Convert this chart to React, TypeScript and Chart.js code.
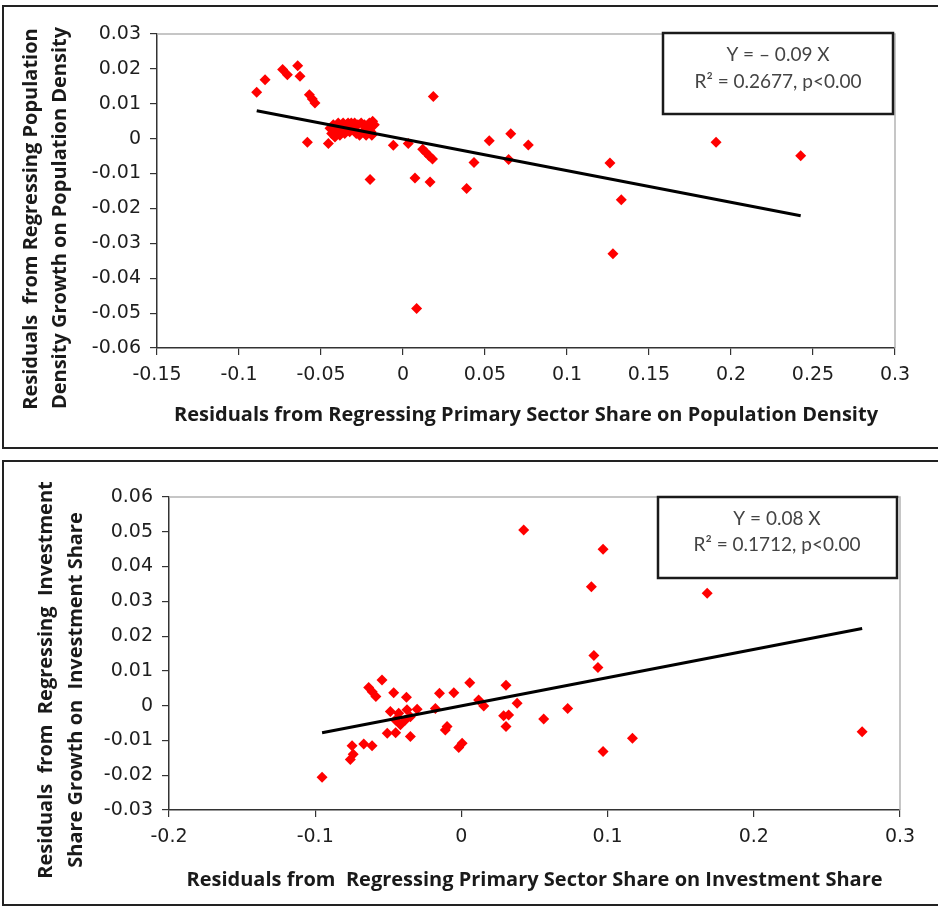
import React, { useEffect, useRef } from 'react';
import { Chart, registerables } from 'chart.js';

Chart.register(...registerables);

// ---------- Chart 1: Population density ----------
const popX = [
  -0.0892, -0.0841, -0.0734, -0.0705, -0.0642, -0.0628, -0.0571, -0.0553, -0.0537, -0.0583, -0.0455,
  -0.0445, -0.0435, -0.0425, -0.0415, -0.0405, -0.0395, -0.0385, -0.0375, -0.0365, -0.0355, -0.0345,
  -0.0335, -0.0325, -0.0315, -0.0305, -0.0295, -0.0285, -0.0275, -0.0265, -0.0255, -0.0245, -0.0235,
  -0.0225, -0.0215, -0.0205, -0.0195, -0.0185, -0.0175, -0.0190, -0.0230,
  -0.0201, -0.0059, 0.0032, 0.0073, 0.0083, 0.0120, 0.0140, 0.0160, 0.0180, 0.0165, 0.0185,
  0.0388, 0.0433, 0.0526, 0.0657, 0.0644, 0.0764, 0.1262, 0.1331, 0.1280, 0.1909, 0.2425,
];
const popY = [
  0.0133, 0.0169, 0.0198, 0.0183, 0.0209, 0.0179, 0.0126, 0.0114, 0.0102, -0.0010, -0.0014,
  0.0030, 0.0015, 0.0040, 0.0005, 0.0025, 0.0045, 0.0010, 0.0030, 0.0045, 0.0015, 0.0040,
  0.0045, 0.0020, 0.0045, 0.0030, 0.0045, 0.0015, 0.0040, 0.0010, 0.0045, 0.0020, 0.0040,
  0.0010, 0.0030, 0.0045, 0.0020, 0.0050, 0.0040, 0.0010, 0.0025,
  -0.0117, -0.0019, -0.0014, -0.0113, -0.0487, -0.0030, -0.0040, -0.0050, -0.0058, -0.0124, 0.0121,
  -0.0143, -0.0068, -0.0006, 0.0014, -0.0060, -0.0018, -0.0070, -0.0175, -0.0330, -0.0010, -0.0049,
];
const popTrendX = [-0.0892, 0.2425];
const popTrendY = [0.0080, -0.0221];
const popXTicks = [-0.15, -0.1, -0.05, 0, 0.05, 0.1, 0.15, 0.2, 0.25, 0.3];
const popYTicks = [-0.06, -0.05, -0.04, -0.03, -0.02, -0.01, 0, 0.01, 0.02, 0.03];
const popXTitle = 'Residuals from Regressing Primary Sector Share on Population Density';
const popYTitle = ['Residuals  from Regressing Population', 'Density Growth on Population Density'];
const popNote = ['Y = \u2013 0.09 X', 'R\u00B2 = 0.2677, p<0.00'];

// ---------- Chart 2: Investment share ----------
const invX = [
  -0.0953, -0.0760, -0.0740, -0.0748, -0.0668, -0.0611, -0.0634, -0.0610, -0.0585, -0.0543,
  -0.0463, -0.0376, -0.0507, -0.0450, -0.0349, -0.0486, -0.0429, -0.0372, -0.0303, -0.0383,
  -0.0349, -0.0417, -0.0451, -0.0178, -0.0150, -0.0052, -0.0110, -0.0098, -0.0018, 0.0005,
  0.0057, 0.0118, 0.0153, 0.0305, 0.0381, 0.0289, 0.0323, 0.0305, 0.0563, 0.0727,
  0.0426, 0.0969, 0.0889, 0.1681, 0.0906, 0.0934, 0.0969, 0.1170, 0.2741,
];
const invY = [
  -0.0206, -0.0155, -0.0140, -0.0115, -0.0110, -0.0115, 0.0052, 0.0040, 0.0026, 0.0074,
  0.0037, 0.0024, -0.0079, -0.0078, -0.0089, -0.0017, -0.0022, -0.0012, -0.0010, -0.0041,
  -0.0032, -0.0055, -0.0041, -0.0008, 0.0036, 0.0037, -0.0070, -0.0060, -0.0120, -0.0108,
  0.0066, 0.0016, -0.0001, 0.0059, 0.0007, -0.0029, -0.0027, -0.0060, -0.0038, -0.0008,
  0.0505, 0.0450, 0.0342, 0.0323, 0.0144, 0.0110, -0.0132, -0.0094, -0.0075,
];
const invTrendX = [-0.0953, 0.2741];
const invTrendY = [-0.0078, 0.0222];
const invXTicks = [-0.2, -0.1, 0, 0.1, 0.2, 0.3];
const invYTicks = [-0.03, -0.02, -0.01, 0, 0.01, 0.02, 0.03, 0.04, 0.05, 0.06];
const invXTitle = 'Residuals from  Regressing Primary Sector Share on Investment Share';
const invYTitle = ['Residuals  from  Regressing  Investment', 'Share Growth on  Investment Share'];
const invNote = ['Y = 0.08 X', 'R\u00B2 = 0.1712, p<0.00'];

const TICK_FONT = { family: '"DejaVu Sans", sans-serif', size: 19 };
const TITLE_FAMILY = '"Open Sans", Lato, sans-serif';
const TITLE_SIZE = 20;
const NOTE_FAMILY = 'Lato, "Open Sans", sans-serif';

type Cfg = {
  xs: number[]; ys: number[]; tx: number[]; ty: number[];
  xTicks: number[]; yTicks: number[];
  xTitle: string; yTitle: string[]; note: string[];
  width: number; height: number;
  padding: { left: number; right: number; top: number; bottom: number };
  yWidth: number; xHeight: number; xTitlePad: number;
  yTitlePos: { x: number; y: number }[];
  noteBox: { x: number; y: number; w: number; h: number; cx: number; lines: number[] };
};

function fmt(v: number) {
  return String(Number(v.toFixed(2)));
}

function makeChart(canvas: HTMLCanvasElement, c: Cfg) {
  const decor = {
    id: 'decor',
    beforeDatasetsDraw(chart: any) {
      const { ctx, chartArea: a } = chart;
      ctx.save();
      ctx.strokeStyle = '#b4b4b4';
      ctx.lineWidth = 1.5;
      ctx.beginPath();
      ctx.moveTo(a.left, a.top);
      ctx.lineTo(a.right, a.top);
      ctx.lineTo(a.right, a.bottom);
      ctx.stroke();
      ctx.restore();
    },
    afterDraw(chart: any) {
      const { ctx } = chart;
      ctx.save();
      ctx.fillStyle = '#1a1a1a';
      ctx.font = 'bold ' + TITLE_SIZE + 'px ' + TITLE_FAMILY;
      ctx.textAlign = 'center';
      ctx.textBaseline = 'middle';
      c.yTitle.forEach((line, i) => {
        const p = c.yTitlePos[i];
        ctx.save();
        ctx.translate(p.x, p.y);
        ctx.rotate(-Math.PI / 2);
        ctx.fillText(line, 0, 0);
        ctx.restore();
      });
      const b = c.noteBox;
      ctx.fillStyle = '#ffffff';
      ctx.fillRect(b.x, b.y, b.w, b.h);
      ctx.strokeStyle = '#1a1a1a';
      ctx.lineWidth = 2.5;
      ctx.strokeRect(b.x, b.y, b.w, b.h);
      ctx.fillStyle = '#444444';
      ctx.font = '19px ' + NOTE_FAMILY;
      c.note.forEach((line, i) => ctx.fillText(line, b.cx, b.lines[i]));
      ctx.restore();
    },
  };

  const axisCommon = {
    grid: { display: true, drawOnChartArea: false, drawTicks: true, tickLength: 7, color: '#333333', lineWidth: 1.2 },
    border: { display: true, color: '#333333', width: 1.5 },
  };

  return new Chart(canvas, {
    type: 'scatter',
    data: {
      datasets: [
        {
          type: 'line',
          data: c.tx.map((x, i) => ({ x, y: c.ty[i] })),
          borderColor: '#000000',
          borderWidth: 3,
          pointRadius: 0,
          fill: false,
        } as any,
        {
          data: c.xs.map((x, i) => ({ x, y: c.ys[i] })),
          pointStyle: 'rectRot',
          pointRadius: 5.5,
          backgroundColor: '#ff0000',
          borderWidth: 0,
        },
      ],
    },
    options: {
      responsive: false,
      animation: false,
      devicePixelRatio: 1,
      layout: { padding: c.padding },
      plugins: { legend: { display: false }, tooltip: { enabled: false } },
      scales: {
        x: {
          type: 'linear',
          min: c.xTicks[0],
          max: c.xTicks[c.xTicks.length - 1],
          ...axisCommon,
          afterBuildTicks: (s: any) => { s.ticks = c.xTicks.map((v) => ({ value: v })); },
          afterFit: (s: any) => { s.height = c.xHeight; },
          ticks: { font: TICK_FONT, color: '#1e1e1e', padding: 9, maxRotation: 0, autoSkip: false, callback: (v: any) => fmt(Number(v)) },
          title: {
            display: true,
            text: c.xTitle,
            color: '#1a1a1a',
            font: { family: TITLE_FAMILY, size: TITLE_SIZE, weight: 'bold' },
            padding: { top: 0, bottom: c.xTitlePad },
          },
        },
        y: {
          type: 'linear',
          min: c.yTicks[0],
          max: c.yTicks[c.yTicks.length - 1],
          ...axisCommon,
          afterBuildTicks: (s: any) => { s.ticks = c.yTicks.map((v) => ({ value: v })); },
          afterFit: (s: any) => { s.width = c.yWidth; },
          ticks: { font: TICK_FONT, color: '#1e1e1e', padding: 9, autoSkip: false, callback: (v: any) => fmt(Number(v)) },
        },
      },
    },
    plugins: [decor],
  } as any);
}

const topCfg: Cfg = {
  xs: popX, ys: popY, tx: popTrendX, ty: popTrendY,
  xTicks: popXTicks, yTicks: popYTicks,
  xTitle: popXTitle, yTitle: popYTitle, note: popNote,
  width: 938, height: 455,
  padding: { left: 77, right: 43, top: 34, bottom: 7 },
  yWidth: 80, xHeight: 100, xTitlePad: 21,
  yTitlePos: [{ x: 31, y: 219 }, { x: 60, y: 218 }],
  noteBox: { x: 663, y: 33, w: 230, h: 81, cx: 778, lines: [55, 82] },
};

const botCfg: Cfg = {
  xs: invX, ys: invY, tx: invTrendX, ty: invTrendY,
  xTicks: invXTicks, yTicks: invYTicks,
  xTitle: invXTitle, yTitle: invYTitle, note: invNote,
  width: 938, height: 452,
  padding: { left: 89, right: 38, top: 42, bottom: 7 },
  yWidth: 80, xHeight: 90, xTitlePad: 8,
  yTitlePos: [{ x: 46, y: 225 }, { x: 76, y: 235 }],
  noteBox: { x: 658, y: 42, w: 239, h: 81, cx: 777, lines: [64, 90] },
};

function ChartCanvas({ cfg, top }: { cfg: Cfg; top: number }) {
  const ref = useRef<HTMLCanvasElement | null>(null);
  useEffect(() => {
    if (!ref.current) return;
    const ch = makeChart(ref.current, cfg);
    return () => ch.destroy();
  }, [cfg]);
  return (
    <canvas
      ref={ref}
      width={cfg.width}
      height={cfg.height}
      style={{ position: 'absolute', left: 0, top, width: cfg.width, height: cfg.height }}
    />
  );
}

export default function App() {
  return (
    <div style={{ position: 'absolute', left: 0, top: 0, width: 938, height: 907, background: '#ffffff', overflow: 'hidden' }}>
      <div style={{ position: 'absolute', left: 2, top: 5, width: 960, height: 444, border: '2px solid #222', boxSizing: 'border-box' }} />
      <div style={{ position: 'absolute', left: 2, top: 460, width: 960, height: 446, border: '2px solid #222', boxSizing: 'border-box' }} />
      <ChartCanvas cfg={topCfg} top={0} />
      <ChartCanvas cfg={botCfg} top={455} />
    </div>
  );
}
